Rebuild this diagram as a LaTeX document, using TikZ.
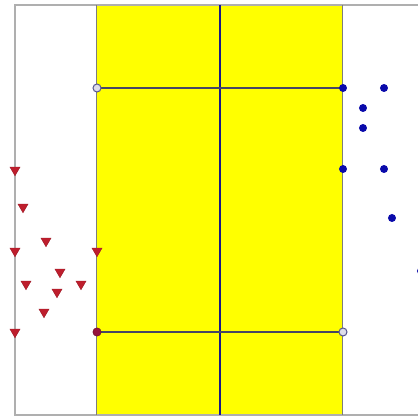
\documentclass[tikz,border=0pt]{standalone}
\usetikzlibrary{shapes.geometric}
\definecolor{courtyellow}{RGB}{255,255,0}
\definecolor{framegray}{RGB}{175,175,175}
\definecolor{edgegray}{RGB}{125,125,125}
\definecolor{midnavy}{RGB}{25,25,135}
\definecolor{linegray}{RGB}{70,70,100}
\definecolor{tricol}{RGB}{190,30,45}
\definecolor{dotcol}{RGB}{10,10,170}
\definecolor{ringcol}{RGB}{85,85,145}
\definecolor{maroondot}{RGB}{150,20,60}
\tikzset{
	redtri/.style={regular polygon,regular polygon sides=3,shape border rotate=180,fill=tricol,draw=tricol!80!black,line width=0.2pt,minimum size=7pt,inner sep=0pt},
	bluedot/.style={circle,fill=dotcol,minimum size=4.8pt,inner sep=0pt},
	ringdot/.style={circle,draw=ringcol,fill=ringcol!20,line width=0.6pt,minimum size=4.8pt,inner sep=0pt},
	reddot/.style={circle,fill=maroondot,draw=maroondot!70!black,line width=0.3pt,minimum size=5pt,inner sep=0pt}
}
\begin{document}
\begin{tikzpicture}[x=0.6pt,y=-0.6pt]
	\useasboundingbox (0,0) rectangle (418,416);
	% court
	\fill[courtyellow] (97,5) rectangle (343,415);
	\draw[framegray,line width=0.9pt] (420,5) -- (15,5) -- (15,415) -- (420,415);
	\draw[edgegray,line width=0.6pt] (97,5) -- (97,415) (343,5) -- (343,415);
	\draw[midnavy,line width=1.4pt] (220,5) -- (220,415);
	% corners
	\coordinate (ul) at (97,88);
	\coordinate (ur) at (343,88);
	\coordinate (ll) at (97,332);
	\coordinate (lr) at (343,332);
	\draw[linegray,line width=0.7pt] (ul) -- (ur) (ll) -- (lr);
	% red side
	\foreach \x/\y [count=\i] in {15/170,23/207,46/241,15/251,97/251,60/272,26/284,81/284,57/292,44/312,15/332}{
		\node[redtri] (t\i) at (\x,\y) {};
	}
	% blue side
	\foreach \x/\y [count=\i] in {384/88,363/108,363/128,343/169,384/169,392/218,421/271}{
		\node[bluedot] (b\i) at (\x,\y) {};
	}
	\node[bluedot] (bur) at (ur) {};
	\node[ringdot] (rul) at (ul) {};
	\node[ringdot] (rlr) at (lr) {};
	\node[reddot] (rll) at (ll) {};
\end{tikzpicture}
\end{document}
